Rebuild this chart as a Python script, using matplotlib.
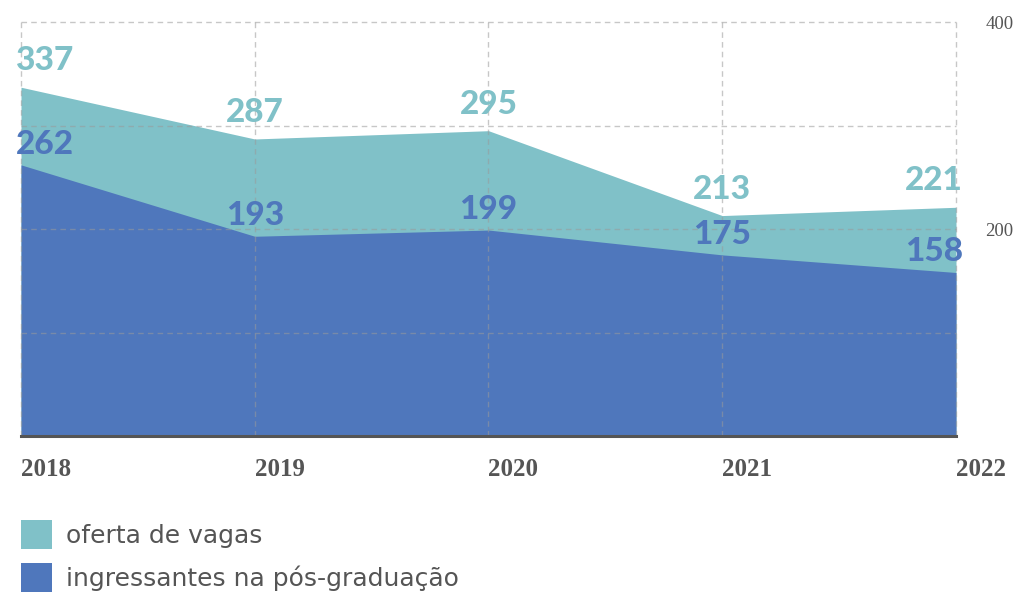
import matplotlib
matplotlib.use("Agg")
import matplotlib.pyplot as plt
from matplotlib.patches import Patch
from matplotlib import transforms

# data
years = [2018, 2019, 2020, 2021, 2022]
oferta_vagas = [337, 287, 295, 213, 221]
ingressantes = [262, 193, 199, 175, 158]
y_ticks = [100, 200, 300, 400]
y_labels = ["", "200", "", "400"]

teal = "#80c1c8"
blue = "#4f77bc"
gray = "#555555"
label_font = "Lato"
legend_font = "DejaVu Sans"

fig = plt.figure(figsize=(10.14, 5.92), dpi=100)
ax = fig.add_axes([0.0207, 0.2635, 0.9221, 0.6993])

ax.fill_between(years, 0, oferta_vagas, color=teal, lw=0, zorder=1)
ax.fill_between(years, 0, ingressantes, color=blue, lw=0, zorder=2)

ax.set_xlim(years[0], years[-1])
ax.set_ylim(0, 400)

# dashed grid on top of the areas
ax.set_axisbelow(False)
ax.grid(True, ls=(0, (4, 3)), color="#9a9a9a", alpha=0.55, lw=1, zorder=3)
for gl in ax.get_xgridlines() + ax.get_ygridlines():
    gl.set_clip_on(False)

for s in ["top", "left", "right"]:
    ax.spines[s].set_visible(False)
ax.spines["bottom"].set_color(gray)
ax.spines["bottom"].set_linewidth(2.2)
ax.spines["bottom"].set_zorder(5)

ax.set_xticks(years)
ax.set_xticklabels([str(y) for y in years], fontfamily="Liberation Serif",
                   fontweight="bold", fontsize=18, color=gray, ha="left")
offset = transforms.ScaledTranslation(-5 / 100, 0, fig.dpi_scale_trans)
for lab in ax.get_xticklabels():
    lab.set_transform(lab.get_transform() + offset)
ax.tick_params(axis="x", length=0, pad=16)

ax.yaxis.tick_right()
ax.set_yticks(y_ticks)
ax.set_yticklabels(y_labels, fontfamily="Liberation Serif", fontsize=13.5, color=gray)
ax.tick_params(axis="y", length=0, pad=21)

# value labels
n = len(years)
for i, (yr, v1, v2) in enumerate(zip(years, oferta_vagas, ingressantes)):
    if i == 0:
        ha, dx = "left", -4
    elif i == n - 1:
        ha, dx = "right", 5
    else:
        ha, dx = "center", 0
    ax.annotate(str(v1), (yr, v1), xytext=(dx, 19), textcoords="offset points",
                ha=ha, va="center", fontsize=24, fontweight=900,
                color=teal, fontfamily=label_font, zorder=6)
    ax.annotate(str(v2), (yr, v2), xytext=(dx, 15), textcoords="offset points",
                ha=ha, va="center", fontsize=24, fontweight=900,
                color=blue, fontfamily=label_font, zorder=6)

handles = [Patch(facecolor=teal, edgecolor="none", label="oferta de vagas"),
           Patch(facecolor=blue, edgecolor="none", label="ingressantes na pós-graduação")]
fig.legend(handles=handles, loc="upper left", bbox_to_anchor=(0.0207, 0.122),
           frameon=False, prop={"family": legend_font, "size": 18},
           labelcolor=gray, handlelength=1.25, handleheight=1.45,
           handletextpad=0.55, labelspacing=0.55, borderaxespad=0, borderpad=0)

fig.savefig("out.png", dpi=100)
